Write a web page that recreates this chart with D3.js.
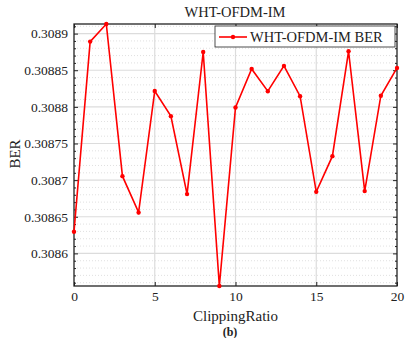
<!DOCTYPE html>
<html><head><meta charset="utf-8">
<script src="https://cdn.jsdelivr.net/npm/d3@7"></script>
<style>body{margin:0;background:#fff}svg{display:block}text{font-family:"Liberation Serif","Times New Roman",serif;fill:#222}</style>
</head><body><svg id="c" width="405" height="338" font-family="Liberation Serif, serif"></svg>
<script>
const clippingRatio = [0,1,2,3,4,5,6,7,8,9,10,11,12,13,14,15,16,17,18,19,20];
const berValues = [0.3086295,0.3088891,0.3089131,0.3087054,0.3086559,0.3088217,0.3087873,0.3086809,0.3088749,0.3085555,0.3087991,0.3088518,0.3088214,0.3088559,0.3088145,0.308684,0.3087327,0.3088759,0.308685,0.3088152,0.3088531];
const xTicks = [0,5,10,15,20];
const yTicks = [0.3086,0.30865,0.3087,0.30875,0.3088,0.30885,0.3089];
const yTickLabels = ["0.3086","0.30865","0.3087","0.30875","0.3088","0.30885","0.3089"];
const seriesName = "WHT-OFDM-IM BER";
const title = "WHT-OFDM-IM";

const FONT = "Liberation Serif, Times New Roman, serif";
const svg = d3.select("#c");
const L=74, R=397, T=24, B=286;
const x = d3.scaleLinear().domain([0,20]).range([L,R]);
const y = d3.scaleLinear().domain([d3.min(berValues), d3.max(berValues)]).range([B,T]);

// minor grid (dotted)
const minorY = d3.range(0.30856,0.30892,0.00001).map(v=>+v.toFixed(5)).filter(v=>v>=y.domain()[0]&&v<=y.domain()[1]&&!yTicks.some(t=>Math.abs(t-v)<1e-9));
svg.append("g").selectAll("line").data(minorY).join("line")
  .attr("x1",L).attr("x2",R).attr("y1",d=>y(d)).attr("y2",d=>y(d))
  .attr("stroke","#d8d8d8").attr("stroke-width",0.8).attr("stroke-dasharray","1,2");
// major grid
svg.append("g").selectAll("line").data(yTicks).join("line")
  .attr("x1",L).attr("x2",R).attr("y1",d=>y(d)).attr("y2",d=>y(d))
  .attr("stroke","#dcdcdc").attr("stroke-width",1.2);
svg.append("g").selectAll("line").data(xTicks.slice(1,-1)).join("line")
  .attr("y1",T).attr("y2",B).attr("x1",d=>x(d)).attr("x2",d=>x(d))
  .attr("stroke","#dcdcdc").attr("stroke-width",1.2);

// axes
const axL = svg.append("g").attr("transform",`translate(${L},0)`)
  .call(d3.axisLeft(y).tickValues(yTicks).tickFormat((d,i)=>yTickLabels[i]).tickSizeInner(-4).tickSizeOuter(0).tickPadding(6));
const axR = svg.append("g").attr("transform",`translate(${R},0)`)
  .call(d3.axisRight(y).tickValues(yTicks).tickFormat("").tickSizeInner(-4).tickSizeOuter(0));
const minorL = svg.append("g").attr("transform",`translate(${L},0)`)
  .call(d3.axisLeft(y).tickValues(minorY).tickFormat("").tickSizeInner(-2).tickSizeOuter(0));
const minorR = svg.append("g").attr("transform",`translate(${R},0)`)
  .call(d3.axisRight(y).tickValues(minorY).tickFormat("").tickSizeInner(-2).tickSizeOuter(0));
const axB = svg.append("g").attr("transform",`translate(0,${B})`)
  .call(d3.axisBottom(x).tickValues(xTicks).tickSizeInner(-4).tickSizeOuter(0).tickPadding(5));
const axT = svg.append("g").attr("transform",`translate(0,${T})`)
  .call(d3.axisTop(x).tickValues(xTicks).tickFormat("").tickSizeInner(-4).tickSizeOuter(0));
[axL,axR,minorL,minorR,axB,axT].forEach(g=>{
  g.attr("font-family",FONT).attr("font-size",13.5);
  g.select(".domain").remove();
  g.selectAll("line").attr("stroke","#222");
  g.selectAll("text").attr("font-family",FONT).attr("fill","#222");
});
svg.append("rect").attr("x",L).attr("y",T).attr("width",R-L).attr("height",B-T)
  .attr("fill","none").attr("stroke","#222").attr("stroke-width",1.3);

// series
const line = d3.line().x((d,i)=>x(clippingRatio[i])).y(d=>y(d));
svg.append("path").datum(berValues).attr("d",line).attr("fill","none").attr("stroke","#ff0000").attr("stroke-width",1.6);
svg.append("g").selectAll("circle").data(berValues).join("circle")
  .attr("cx",(d,i)=>x(clippingRatio[i])).attr("cy",d=>y(d)).attr("r",2.2).attr("fill","#ff0000");

// title & labels
svg.append("text").attr("x",235).attr("y",17).attr("text-anchor","middle").style("font-size","14.5px").text(title);
svg.append("text").attr("transform","translate(20,154) rotate(-90)").attr("text-anchor","middle").style("font-size","15px").text("BER");
svg.append("text").attr("x",235.5).attr("y",321).attr("text-anchor","middle").style("font-size","15px").text("ClippingRatio");
svg.append("text").attr("x",230).attr("y",336).attr("text-anchor","middle").style("font-size","12px").style("font-weight","bold").text("(b)");

// legend
const lg = svg.append("g");
lg.append("rect").attr("x",215).attr("y",26).attr("width",180).attr("height",21).attr("fill","#fff").attr("stroke","#222").attr("stroke-width",0.8);
lg.append("line").attr("x1",219).attr("x2",247).attr("y1",37).attr("y2",37).attr("stroke","#ff0000").attr("stroke-width",1.6);
lg.append("circle").attr("cx",233).attr("cy",37).attr("r",2.2).attr("fill","#ff0000");
lg.append("text").attr("x",250).attr("y",42).style("font-size","14.5px").text(seriesName);
</script></body></html>
